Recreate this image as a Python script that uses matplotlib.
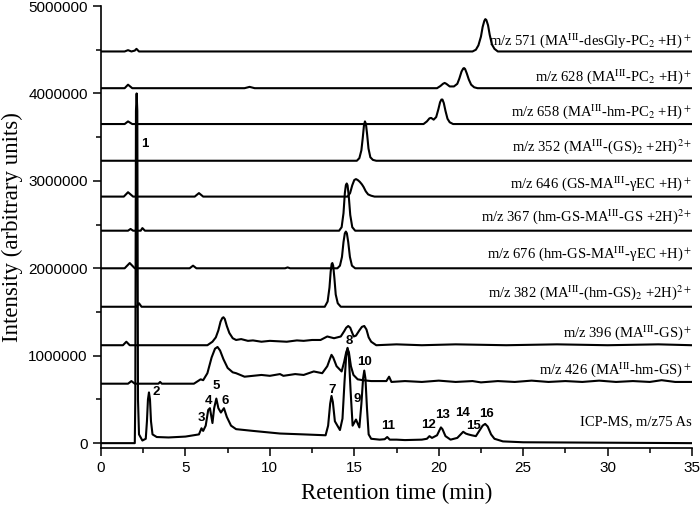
import matplotlib
matplotlib.use("Agg")
import matplotlib.pyplot as plt
from matplotlib.ticker import MultipleLocator

plt.rcParams["mathtext.fontset"] = "stix"

# each trace: retention times (min), intensity above its own baseline (x 1e6), baseline offset (x 1e6)
t_571 = [0, 1.4, 1.6, 1.8, 2.0, 2.1, 2.25, 2.5, 22.0, 22.2, 22.35, 22.5, 22.6, 22.7, 22.76, 22.82,
         22.92, 23.02, 23.15, 23.3, 23.5, 35]
v_571 = [0, 0, .015, 0, .01, .03, 0, 0, 0, .02, .07, .17, .28, .35, .37, .36,
         .3, .19, .08, .03, 0, 0]

t_628 = [0, 1.4, 1.6, 1.85, 8.5, 8.8, 9.1, 19.9, 20.1, 20.25, 20.35, 20.45, 20.65, 20.9, 21.1,
         21.22, 21.35, 21.45, 21.5, 21.56, 21.66, 21.78, 21.92, 22.1, 22.3, 35]
v_628 = [0, 0, .04, 0, 0, .015, 0, 0, .025, .05, .06, .05, .02, .02, .05,
         .11, .19, .225, .23, .22, .17, .1, .04, .01, 0, 0]

t_658 = [0, 1.4, 1.6, 1.85, 19.1, 19.3, 19.45, 19.55, 19.7, 19.85, 19.98, 20.08, 20.16, 20.22,
         20.3, 20.4, 20.52, 20.65, 20.85, 35]
v_658 = [0, 0, .03, 0, 0, .03, .065, .07, .05, .08, .17, .25, .28, .28,
         .24, .15, .06, .02, 0, 0]

t_352 = [0, 15.15, 15.3, 15.42, 15.5, 15.57, 15.63, 15.69, 15.76, 15.84, 15.95, 16.1, 16.3, 35]
v_352 = [0, 0, .03, .12, .26, .4, .45, .42, .3, .14, .04, .01, 0, 0]

t_646 = [0, 1.35, 1.6, 1.9, 5.55, 5.8, 6.05, 14.6, 14.75, 14.88, 15.0, 15.1, 15.2, 15.32, 15.45,
         15.55, 15.68, 15.82, 16.0, 16.2, 35]
v_646 = [0, 0, .05, 0, 0, .04, 0, 0, .04, .13, .19, .2, .19, .17, .14,
         .11, .06, .025, .01, 0, 0]

t_367 = [0, 1.6, 1.75, 1.9, 2.35, 2.45, 2.6, 14.1, 14.25, 14.36, 14.44, 14.5, 14.55, 14.6,
         14.67, 14.76, 14.88, 15.05, 35]
v_367 = [0, 0, .02, 0, 0, .03, 0, 0, .04, .2, .43, .52, .54, .52,
         .4, .18, .04, 0, 0]

t_676 = [0, 1.4, 1.7, 2.0, 5.25, 5.45, 5.65, 10.9, 11.05, 11.2, 14.0, 14.15, 14.27, 14.36,
         14.44, 14.5, 14.56, 14.64, 14.74, 14.86, 15.05, 35]
v_676 = [0, 0, .06, 0, 0, .03, 0, 0, .01, 0, 0, .03, .13, .3,
         .4, .42, .4, .3, .13, .03, 0, 0]

t_382 = [0, 2.1, 2.25, 2.4, 13.25, 13.42, 13.53, 13.6, 13.66, 13.7, 13.75, 13.82, 13.9, 14.02,
         14.2, 35]
v_382 = [0, 0, .04, 0, 0, .06, .22, .4, .49, .5, .47, .33, .14, .04,
         0, 0]

t_396 = [0, 1.3, 1.5, 1.7, 6.3, 6.6, 6.8, 6.95, 7.08, 7.18, 7.25, 7.33, 7.45, 7.6, 7.8, 8.0,
         8.3, 8.7, 9, 9.5, 10, 10.5, 11, 11.6, 12, 12.5, 13, 13.4, 13.8, 14.2, 14.4, 14.52,
         14.64, 14.76, 14.88, 14.97, 15.1, 15.3, 15.45, 15.59, 15.72, 15.85, 16.0, 16.3, 17.5,
         19, 21, 24, 27, 30, 33, 35]
v_396 = [0, 0, .04, 0, 0, .04, .09, .17, .27, .31, .32, .3, .22, .14, .08, .06,
         .07, .05, .055, .04, .05, .045, .04, .055, .05, .06, .06, .1, .08, .1, .16, .2,
         .22, .2, .14, .1, .11, .17, .21, .22, .18, .09, .04, 0, .01,
         0, .01, 0, .01, 0, .01, 0]

t_426 = [0, 1.6, 1.8, 2.0, 3.4, 3.5, 3.6, 5.5, 5.9, 6.05, 6.3, 6.55, 6.75, 6.9, 7.05, 7.25,
         7.5, 7.8, 8.0, 8.5, 9.0, 9.5, 10.0, 10.6, 10.8, 11.5, 12.0, 12.6, 13.1, 13.4, 13.55,
         13.65, 13.75, 13.95, 14.25, 14.4, 14.52, 14.6, 14.68, 14.8, 14.95, 15.2, 15.5, 16.0,
         16.9, 17.06, 17.2, 18, 19, 20, 21, 22, 22.5, 23.5, 24.5, 25.5, 26.5, 27.5, 28.5,
         29.5, 30.5, 31.5, 32.5, 33.2, 34, 35]
v_426 = [0, 0, .03, 0, 0, .02, 0, 0, .05, .04, .12, .3, .4, .42, .38, .28,
         .18, .13, .12, .08, .09, .1, .09, .11, .09, .11, .1, .14, .12, .2, .28,
         .33, .3, .2, .14, .25, .36, .4, .36, .2, .1, .05, .04, .03,
         .03, .08, .02, .03, .02, .035, .02, .03, .015, .03, .02, .035, .02, .03, .02,
         .035, .02, .03, .02, .04, .02, .02]

t_icp = [0, 2.0, 2.03, 2.07, 2.11, 2.15, 2.19, 2.25, 2.45, 2.65, 2.72, 2.78, 2.84, 2.9, 2.96,
         3.05, 3.3, 4, 5, 5.8, 5.95, 6.05, 6.2, 6.35, 6.45, 6.6, 6.7, 6.83, 6.95, 7.1, 7.28,
         7.45, 7.7, 8.0, 9, 10.6, 12, 13.3, 13.45, 13.57, 13.65, 13.73, 13.85, 14.15, 14.3,
         14.42, 14.52, 14.6, 14.68, 14.78, 14.9, 15.1, 15.3, 15.42, 15.52, 15.59, 15.66, 15.75,
         15.85, 16.0, 16.5, 16.8, 16.95, 17.1, 17.5, 18, 19.0, 19.3, 19.45, 19.6, 19.9, 20.05,
         20.13, 20.22, 20.4, 20.7, 21.1, 21.3, 21.45, 21.6, 21.75, 21.95, 22.2, 22.4, 22.6,
         22.75, 22.9, 23.1, 23.3, 23.8, 25, 35]
v_icp = [0, 0, .5, 3.8, 4.0, 3.8, .5, .1, .03, .05, .25, .5, .58, .5, .25,
         .1, .07, .065, .075, .1, .17, .14, .2, .38, .4, .23, .4, .51, .4, .35, .4,
         .3, .2, .16, .14, .11, .1, .09, .2, .45, .54, .47, .25, .15, .28,
         .7, 1.0, 1.09, .98, .6, .2, .27, .18, .45, .74, .83, .74, .4,
         .1, .05, .04, .045, .07, .04, .04, .035, .04, .05, .08, .06, .09, .15,
         .18, .16, .08, .04, .06, .1, .13, .11, .1, .09, .08, .14, .2,
         .22, .19, .1, .05, .02, .01, 0]

trace_times = [t_571, t_628, t_658, t_352, t_646, t_367, t_676, t_382, t_396, t_426, t_icp]
trace_values = [v_571, v_628, v_658, v_352, v_646, v_367, v_676, v_382, v_396, v_426, v_icp]
trace_offsets = [4.48, 4.06, 3.65, 3.23, 2.82, 2.43, 2.00, 1.56, 1.12, 0.68, 0.0]
trace_names = [
    r"m/z 571 (MA$^{\rm III}$-desGly-PC$_2$ +H)$^+$",
    r"m/z 628 (MA$^{\rm III}$-PC$_2$ +H)$^+$",
    r"m/z 658 (MA$^{\rm III}$-hm-PC$_2$ +H)$^+$",
    r"m/z 352 (MA$^{\rm III}$-(GS)$_2$ +2H)$^{2+}$",
    r"m/z 646 (GS-MA$^{\rm III}$-γEC +H)$^+$",
    r"m/z 367 (hm-GS-MA$^{\rm III}$-GS +2H)$^{2+}$",
    r"m/z 676 (hm-GS-MA$^{\rm III}$-γEC +H)$^+$",
    r"m/z 382 (MA$^{\rm III}$-(hm-GS)$_2$ +2H)$^{2+}$",
    r"m/z 396 (MA$^{\rm III}$-GS)$^+$",
    r"m/z 426 (MA$^{\rm III}$-hm-GS)$^+$",
    "ICP-MS, m/z75 As",
]
name_levels = [4.61, 4.19, 3.79, 3.39, 2.97, 2.59, 2.17, 1.72, 1.26, 0.84, 0.24]

# numbered ICP-MS peaks: label, time, height (x 1e6)
peak_ids = ["1", "2", "3", "4", "5", "6", "7", "8", "9", "10", "11", "12", "13", "14", "15", "16"]
peak_t = [2.58, 3.24, 5.94, 6.39, 6.83, 7.34, 13.66, 14.68, 15.18, 15.63, 17.0, 19.38, 20.2, 21.44, 22.07, 22.83]
peak_v = [3.42, 0.58, 0.29, 0.48, 0.65, 0.48, 0.61, 1.17, 0.5, 0.93, 0.2, 0.21, 0.32, 0.34, 0.2, 0.33]

x_ticks = [0, 5, 10, 15, 20, 25, 30, 35]
y_ticks = [0, 1000000, 2000000, 3000000, 4000000, 5000000]
y_tick_labels = ["0", "1000000", "2000000", "3000000", "4000000", "5000000"]

fig = plt.figure(figsize=(7.0, 5.09), dpi=100)
ax = fig.add_axes([0.1443, 0.1208, 0.8443, 0.8674])

for tt, vv, off in zip(trace_times, trace_values, trace_offsets):
    ax.plot(tt, [(off + v) * 1e6 for v in vv], color="black", lw=1.5,
            solid_joinstyle="round")

for name, lvl in zip(trace_names, name_levels):
    ax.text(35, lvl * 1e6, name, ha="right", va="center", fontsize=10.5,
            family="Liberation Serif")

for pid, pt, pv in zip(peak_ids, peak_t, peak_v):
    ax.text(pt, pv * 1e6, pid, ha="center", va="center", fontsize=9.5,
            fontweight="bold", family="Liberation Sans")

ax.set_xlim(0, 35)
ax.set_ylim(-50000, 5000000)
ax.set_xticks(x_ticks)
ax.set_yticks(y_ticks)
ax.set_yticklabels(y_tick_labels)
ax.xaxis.set_minor_locator(MultipleLocator(2.5))
ax.yaxis.set_minor_locator(MultipleLocator(500000))

for lab in ax.get_xticklabels() + ax.get_yticklabels():
    lab.set_family("Liberation Sans")
    lab.set_fontsize(11)

ax.tick_params(which="major", direction="out", length=6, width=1.1)
ax.tick_params(which="minor", direction="out", length=3.5, width=1.1)
ax.spines["top"].set_visible(False)
ax.spines["right"].set_visible(False)
ax.spines["left"].set_linewidth(1.2)
ax.spines["bottom"].set_linewidth(1.2)

ax.set_xlabel("Retention time (min)", family="Liberation Serif", fontsize=16.5, labelpad=6)
ax.set_ylabel("Intensity (arbitrary units)", family="Liberation Serif", fontsize=16.5, labelpad=4)

fig.savefig("out.png", dpi=100)
